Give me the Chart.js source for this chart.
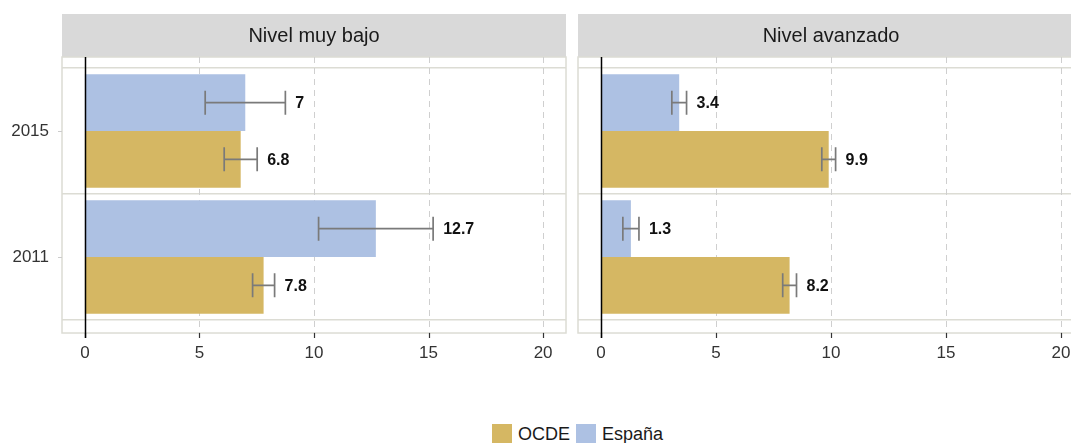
<!DOCTYPE html>
<html>
<head>
<meta charset="utf-8">
<script src="https://cdn.jsdelivr.net/npm/chart.js@4.4.1/dist/chart.umd.min.js"></script>
<style>
  html, body { margin: 0; overflow: hidden; }
  body { width: 1071px; height: 443px; background: #fff; position: relative; font-family: 'Liberation Sans', Arial, sans-serif; }
  .panel { position: absolute; top: 0; height: 400px; }
  #legend { position: absolute; top: 424px; left: 492px; display: flex; align-items: center; font-size: 18px; color: #1a1a1a; line-height: 20px; }
  .sw { width: 20px; height: 20px; display: inline-block; margin-right: 6px; }
</style>
</head>
<body>
<div class="panel" style="left:0;width:570px"><canvas id="chartBajo"></canvas></div>
<div class="panel" style="left:570px;width:600px"><canvas id="chartAvanzado"></canvas></div>
<div id="legend">
  <span class="sw" style="background:#D5B763"></span><span style="margin-right:6px">OCDE</span>
  <span class="sw" style="background:#ADC1E3"></span><span>España</span>
</div>
<script>
// Jahre (Kategorien)
const years = ['2015', '2011'];

// Nivel muy bajo
const bajoEspana = [7, 12.7];
const bajoEspanaErr = [1.75, 2.5];
const bajoOcde = [6.8, 7.8];
const bajoOcdeErr = [0.72, 0.48];

// Nivel avanzado
const avanzEspana = [3.4, 1.3];
const avanzEspanaErr = [0.32, 0.35];
const avanzOcde = [9.9, 8.2];
const avanzOcdeErr = [0.3, 0.3];

const xTicks = [0, 5, 10, 15, 20];

const colorEspana = '#ADC1E3';
const colorOcde = '#D5B763';

Chart.defaults.font.family = "'Liberation Sans', Arial, sans-serif";
Chart.defaults.color = '#333';

// Panel: Streifen, Rahmen, Gitter, Fehlerbalken, Werte
const panelPlugin = {
    id: 'panel',
    beforeDraw(chart) {
        const { ctx, chartArea } = chart;
        const t = chart.titleBlock;
        ctx.save();
        ctx.fillStyle = '#D9D9D9';
        ctx.fillRect(chartArea.left, t.top, chartArea.right - chartArea.left, chartArea.top - 11 - t.top);
        ctx.restore();
    },
    beforeDatasetsDraw(chart) {
        const { ctx, chartArea, scales: { x } } = chart;
        const top = chartArea.top - 11, bottom = chartArea.bottom + 13;
        ctx.save();
        ctx.strokeStyle = '#DCDCD4';
        ctx.lineWidth = 1.5;
        ctx.strokeRect(chartArea.left, top, chartArea.right - chartArea.left, bottom - top);
        ctx.setLineDash([6, 5]);
        ctx.strokeStyle = '#CFCFCF';
        ctx.lineWidth = 1;
        xTicks.forEach(v => {
            if (v === 0) return;
            const px = Math.round(x.getPixelForValue(v)) + 0.5;
            ctx.beginPath();
            ctx.moveTo(px, top);
            ctx.lineTo(px, bottom);
            ctx.stroke();
        });
        ctx.restore();
    },
    afterDatasetsDraw(chart) {
        const { ctx, chartArea, scales: { x, y } } = chart;
        const top = chartArea.top - 11, bottom = chartArea.bottom + 13;
        ctx.save();
        // Achsen-Ticks unten
        ctx.strokeStyle = '#333';
        ctx.lineWidth = 1.2;
        xTicks.forEach(v => {
            const px = Math.round(x.getPixelForValue(v)) + 0.5;
            ctx.beginPath();
            ctx.moveTo(px, bottom);
            ctx.lineTo(px, bottom + 5);
            ctx.stroke();
        });
        // Nulllinie
        const x0 = Math.round(x.getPixelForValue(0)) + 0.5;
        ctx.strokeStyle = '#000';
        ctx.lineWidth = 1.5;
        ctx.beginPath();
        ctx.moveTo(x0, top);
        ctx.lineTo(x0, bottom + 5);
        ctx.stroke();
        // Ticks links
        if (y.options.ticks.display) {
            ctx.strokeStyle = '#CCCCCC';
            ctx.lineWidth = 1;
            y.ticks.forEach((t, i) => {
                const py = Math.round(y.getPixelForTick(i)) + 0.5;
                ctx.beginPath();
                ctx.moveTo(chartArea.left - 4, py);
                ctx.lineTo(chartArea.left, py);
                ctx.stroke();
            });
        }
        // Fehlerbalken und Werte
        chart.data.datasets.forEach((ds, di) => {
            const meta = chart.getDatasetMeta(di);
            meta.data.forEach((bar, i) => {
                const v = ds.data[i], e = ds.err[i];
                const lo = x.getPixelForValue(v - e), hi = x.getPixelForValue(v + e);
                const cy = bar.y;
                ctx.strokeStyle = '#7A7A7A';
                ctx.lineWidth = 1.7;
                ctx.beginPath();
                ctx.moveTo(lo, cy); ctx.lineTo(hi, cy);
                ctx.moveTo(lo, cy - 12); ctx.lineTo(lo, cy + 12);
                ctx.moveTo(hi, cy - 12); ctx.lineTo(hi, cy + 12);
                ctx.stroke();
                ctx.fillStyle = '#111';
                ctx.font = "bold 16px 'Liberation Sans', Arial, sans-serif";
                ctx.textAlign = 'left';
                ctx.textBaseline = 'middle';
                ctx.fillText(String(v), hi + 10, cy + 1);
            });
        });
        ctx.restore();
    }
};

function createPanel(canvasId, title, espana, espanaErr, ocde, ocdeErr, showYears, padRight) {
    const ctx = document.getElementById(canvasId).getContext('2d');
    return new Chart(ctx, {
        type: 'bar',
        data: {
            labels: years,
            datasets: [{
                label: 'España',
                data: espana,
                err: espanaErr,
                backgroundColor: colorEspana
            }, {
                label: 'OCDE',
                data: ocde,
                err: ocdeErr,
                backgroundColor: colorOcde
            }]
        },
        options: {
            indexAxis: 'y',
            responsive: true,
            maintainAspectRatio: false,
            animation: false,
            categoryPercentage: 0.9,
            barPercentage: 1.0,
            layout: { padding: { top: 14, right: padRight, left: 0, bottom: 0 } },
            scales: {
                x: {
                    min: -1,
                    max: 21,
                    grid: { display: false },
                    border: { display: false },
                    ticks: { stepSize: 5, includeBounds: false, padding: 15, font: { size: 17 }, color: '#333', maxRotation: 0 },
                    afterFit: s => { s.height = 80; s.paddingRight = 0; s.paddingLeft = 0; }
                },
                y: {
                    grid: { offset: true, color: '#DCDCD4', lineWidth: 1.5, drawTicks: false },
                    border: { display: false },
                    ticks: { display: showYears, padding: 13, font: { size: 17 }, color: '#333' },
                    afterFit: s => { s.width = showYears ? 62 : 8; }
                }
            },
            plugins: {
                legend: { display: false },
                tooltip: { enabled: false },
                title: {
                    display: true,
                    text: title,
                    fullSize: false,
                    color: '#1a1a1a',
                    font: { size: 20, weight: 'normal' },
                    padding: { top: 10, bottom: 20 }
                }
            }
        },
        plugins: [panelPlugin]
    });
}

createPanel('chartBajo', 'Nivel muy bajo', bajoEspana, bajoEspanaErr, bajoOcde, bajoOcdeErr, true, 4);
createPanel('chartAvanzado', 'Nivel avanzado', avanzEspana, avanzEspanaErr, avanzOcde, avanzOcdeErr, false, 86);
</script>
</body>
</html>
